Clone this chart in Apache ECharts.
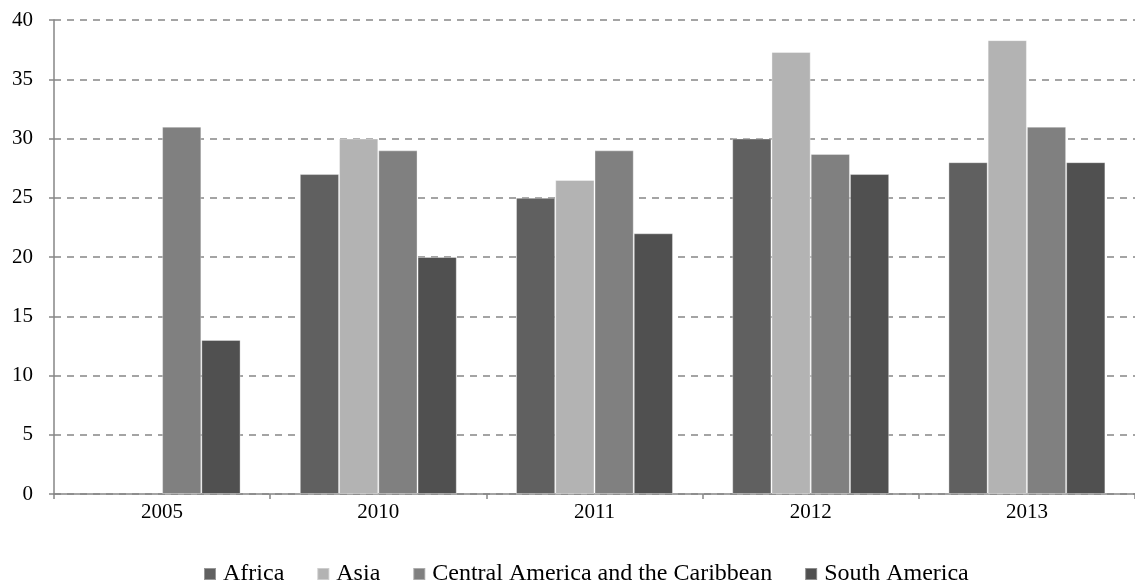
<!DOCTYPE html>
<html>
<head>
<meta charset="utf-8">
<script src="https://cdn.jsdelivr.net/npm/echarts@6/dist/echarts.min.js"></script>
<style>
  html, body { margin: 0; padding: 0; background: #fff; }
  #main { width: 1135px; height: 583px; }
</style>
</head>
<body>
<div id="main"></div>
<script>
// data
const years = ["2005", "2010", "2011", "2012", "2013"];
const africa = ["-", 27, 25, 30, 28];
const asia = ["-", 30, 26.5, 37.3, 38.3];
const centralAmerica = [31, 29, 29, 28.7, 31];
const southAmerica = [13, 20, 22, 27, 28];

const seriesNames = ["Africa", "Asia", "Central America and the Caribbean", "South America"];
const seriesColors = ["#606060", "#b3b3b3", "#808080", "#505050"];
const seriesData = [africa, asia, centralAmerica, southAmerica];

const font = "Liberation Serif";
const axisGrey = "#868686";

const chart = echarts.init(document.getElementById("main"));

const option = {
  animation: false,
  backgroundColor: "#fff",
  grid: {
    left: 54,
    top: 20,
    width: 1088,
    height: 474
  },
  legend: {
    left: 203,
    top: 562,
    padding: 0,
    icon: "rect",
    itemWidth: 12,
    itemHeight: 12,
    itemGap: 32,
    textStyle: {
      fontFamily: font,
      fontSize: 24,
      color: "#000",
      padding: [0, 0, 0, 2]
    },
    data: seriesNames
  },
  xAxis: {
    type: "category",
    data: years,
    axisLine: { lineStyle: { color: axisGrey, width: 1.5 } },
    axisTick: { show: true, length: 5, lineStyle: { color: axisGrey, width: 1.5 } },
    axisLabel: {
      margin: 8,
      fontFamily: font,
      fontSize: 21,
      color: "#000"
    }
  },
  yAxis: {
    type: "value",
    min: 0,
    max: 40,
    interval: 5,
    axisLine: { show: true, lineStyle: { color: axisGrey, width: 1.5 } },
    axisTick: { show: true, length: 5, lineStyle: { color: axisGrey, width: 1.5 } },
    axisLabel: {
      margin: 21,
      fontFamily: font,
      fontSize: 21,
      color: "#000"
    },
    splitLine: {
      lineStyle: { color: axisGrey, width: 1.5, type: [7, 6] }
    }
  },
  series: seriesNames.map(function (name, i) {
    return {
      name: name,
      type: "bar",
      barGap: "0%",
      barCategoryGap: "27.4%",
      itemStyle: {
        color: seriesColors[i],
        borderColor: "rgba(255,255,255,0.35)",
        borderWidth: 1
      },
      data: seriesData[i]
    };
  })
};

chart.setOption(option);
</script>
</body>
</html>
